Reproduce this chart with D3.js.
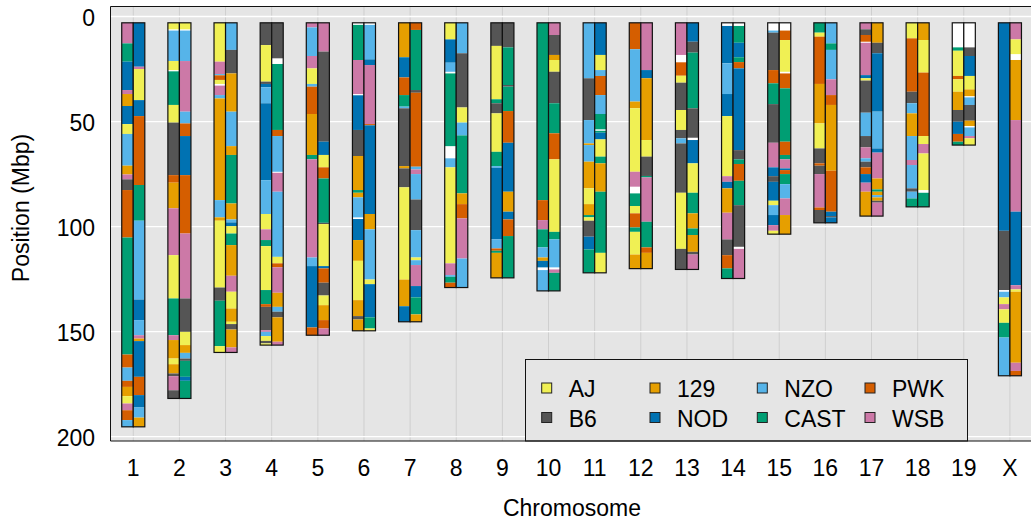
<!DOCTYPE html>
<html>
<head>
<meta charset="utf-8">
<script src="https://cdn.jsdelivr.net/npm/d3@7"></script>
<style>
  body { margin: 0; background: #fff; }
  svg { display: block; font-family: "Liberation Sans", Arial, sans-serif; }
</style>
</head>
<body>
<div id="chart"></div>
<script>
// founder strains, with their one-letter DO codes and colours
const founders = ['AJ', 'B6', '129', 'NOD', 'NZO', 'CAST', 'PWK', 'WSB'];
const founderCodes = ['A', 'B', 'C', 'D', 'E', 'F', 'G', 'H'];
const founderColors = ['#F0F054', '#555555', '#E69F00', '#0072B2', '#56B4E9', '#009E73', '#D55E00', '#CC79A7'];

const chromosomes = ['1', '2', '3', '4', '5', '6', '7', '8', '9', '10',
  '11', '12', '13', '14', '15', '16', '17', '18', '19', 'X'];
const chrStart = 3.0;
const yTicks = [0, 50, 100, 150, 200];

// haplotype blocks, "<code><end Mbp>", each block starts where the previous ends; '.' = no call
const hapLeft = [
  'H12.8 F21.5 D35.0 H36.9 C42.6 D51.2 A55.9 E71.0 C75.2 H77.5 B82.6 G105.2 F160.9 G167.1 E173.4 G176.3 C180.7 A184.2 H187.4 G192.1 E195.3',
  'A6.1 .6.7 E21.2 A25.5 .26.1 F42.1 A50.5 B75.5 G79.1 C91.3 H113.6 A134.2 F151.7 H154.0 C162.8 A165.5 C169.9 B171.2 H177.9 B181.8',
  'A21.5 H27.4 E28.0 G30.2 A32.1 .32.9 H37.4 E39.0 C87.4 E95.6 C97.2 A129.0 B135.3 F156.9 A159.9',
  'B13.6 A31.0 B32.1 D33.7 E41.3 D77.9 E94.0 A101.3 H106.4 F109.3 A130.2 F136.9 G138.2 B149.3 H150.1 E152.1 A154.4 B155.6 A156.4',
  'H5.2 E18.8 H24.7 A32.1 E33.4 G46.4 C65.9 F68.0 H114.7 E118.8 D148.0 G151.7',
  '.4.0 F20.7 H36.9 .37.5 D54.0 B66.4 C82.6 F83.9 C86.1 E95.6 .96.4 D106.4 C116.3 A135.0 C142.6 B144.2 C149.6',
  'C19.4 D29.0 G37.4 F42.9 E43.7 B71.2 C72.3 B81.3 A125.2 C137.9 D145.3',
  'A10.9 D22.0 E26.3 .27.1 F61.7 .67.5 E71.8 A117.5 H123.1 E123.9 F126.7 G129.0',
  'B14.0 A39.4 F41.3 B46.1 A64.4 F71.2 E72.0 D106.1 E110.4 G111.5 F112.5 C124.4',
  'F87.4 G96.9 H101.3 F109.9 E114.7 C116.3 D119.4 .120.7 E130.6',
  'E29.4 B49.3 E60.4 C61.2 E69.1 C81.8 A89.3 C94.5 F95.6 A97.2 B104.8 D110.9 F122.0',
  'G15.6 E40.5 C43.7 A73.9 H81.0 .84.2 F90.2 A93.7 G100.4 F102.5 A113.3 C120.0',
  'H18.3 .21.8 G28.2 A31.5 B44.5 A54.0 B58.0 E60.4 B83.9 A110.6 B120.4',
  '.4.5 D22.3 E36.9 D47.4 A76.0 H78.7 D81.8 C93.4 H106.1 B113.6 G119.9 F124.7',
  '.6.7 E7.7 B25.5 G31.8 F41.7 B60.1 H71.8 D76.0 B78.7 D87.7 A89.8 E94.5 D99.3 H102.0 A103.6',
  'F7.7 A9.6 G32.1 C50.9 A62.8 B69.9 G71.0 B75.0 H90.9 G92.1 B98.2',
  'H6.1 B8.8 G12.0 .12.5 H27.9 D29.4 A30.5 B45.8 E56.9 B62.3 H67.5 E69.1 B71.8 G75.0 D79.1 H83.4 C95.0',
  'A10.4 G35.8 B41.3 E46.1 C56.9 E68.3 H70.7 E81.8 B83.4 E86.6 F90.6',
  '.14.7 F16.3 A28.3 G29.9 A35.8 C44.5 B50.1 D55.9 G59.6 F61.2',
  'D102.0 B130.2 .131.0 E133.7 A136.9 H139.4 A145.8 F152.8 E171.0'
];

const hapRight = [
  'D23.9 H25.0 A39.8 D47.4 G80.2 F97.2 E134.7 D144.5 E151.7 H153.3 C154.5 D171.5 G180.2 D186.1 E190.9 C195.3',
  'A6.1 .6.7 E21.2 H45.3 E50.9 G56.9 D75.5 G103.3 H134.2 B150.1 A156.4 C160.1 E162.8 B163.9 F171.5 D173.4 F181.8',
  'E15.9 B27.1 C45.3 E61.7 C65.9 F89.0 C96.6 E98.0 D99.8 A103.3 F108.8 C123.4 H131.0 A139.0 C145.3 A146.4 B149.0 C157.5 H159.9',
  'B19.9 .22.6 F54.0 G56.9 E73.9 .74.4 H83.4 E114.4 A117.5 G119.4 H131.5 C138.2 E140.5 B143.2 C154.8 H156.4',
  'H16.7 B59.6 D65.9 A71.8 G77.1 F98.2 B98.8 A118.8 D119.9 G126.7 B132.8 A137.4 C144.5 G148.5 H151.7',
  '.4.0 E20.4 D23.1 H51.2 G51.8 D94.0 C101.3 E125.2 A127.4 D143.2 F148.5 A149.6',
  'G6.4 F35.0 B36.3 G71.5 E72.8 H75.0 E87.1 B101.7 E114.7 A116.0 E118.3 H128.3 D133.7 F141.8 C145.3',
  'E17.5 B43.3 A50.5 E56.6 F84.2 C89.3 G96.1 H115.2 E129.0',
  'B14.7 F32.6 B33.4 F45.0 G60.1 D83.4 C92.9 D96.6 G104.5 F124.4',
  'H8.8 B18.3 C20.7 A26.3 B41.3 F55.6 G68.0 A102.5 F106.1 E119.4 .120.4 H122.0 F130.6',
  'D18.3 A25.5 E28.3 G37.4 E46.4 F53.7 .54.4 F55.3 D58.5 A66.7 F69.9 C83.4 F112.5 A122.0',
  'H25.5 D29.4 C58.8 A66.7 B75.9 F76.6 H97.7 F109.9 G112.5 C120.0',
  'D12.0 B17.2 F43.7 B57.7 .58.8 D69.9 A83.9 F93.7 C100.9 F104.0 C112.0 B113.3 H120.4',
  '.4.5 F12.5 D19.4 F21.7 G24.7 D63.6 B68.0 F70.2 G78.2 F89.8 B109.6 .110.6 H124.7',
  '.6.7 G11.2 A26.3 .27.1 G34.2 F59.6 G65.9 F68.0 H72.3 D73.1 G75.0 F79.8 E86.6 H94.5 C103.6',
  'E12.8 F15.9 E29.9 H37.4 G42.1 C73.4 G92.9 D95.0 B95.6 D98.2',
  'C12.5 B17.5 D45.3 E62.8 D64.8 H77.1 C82.3 F83.4 C85.0 E86.1 C87.7 B88.6 H95.0',
  'C11.2 A26.7 G56.9 A60.7 H65.2 A82.6 .83.9 F90.6',
  '.14.7 B18.8 D28.3 A34.7 C37.9 .38.5 E42.1 B49.6 C52.1 .52.8 E56.9 H58.0 A61.2',
  'H10.9 A17.9 .20.7 C49.3 H92.9 D127.9 H129.9 A131.0 C164.8 H168.7 G171.0'
];

const width = 1031;
const height = 521;
const plotLeft = 110.5, plotTop = 6.5, plotBottom = 441, plotRight = 1040;
const bgColor = '#e5e5e5';

const color = d3.scaleOrdinal().domain(founderCodes).range(founderColors);

const x = d3.scaleLinear().domain([0.5, chromosomes.length + 0.5]).range([110.2, 1033]);
const y = d3.scaleLinear().domain([0, 200]).range([16.5, 436.7]);
const halfW = x(0.25) - x(0);

function parseHap(str) {
  let start = chrStart;
  return str.split(' ').map((t) => {
    const seg = { code: t[0], start: start, end: +t.slice(1) };
    start = seg.end;
    return seg;
  });
}

const chrData = chromosomes.map((name, i) => {
  const left = parseHap(hapLeft[i]);
  const right = parseHap(hapRight[i]);
  return { name, pos: i + 1, haps: [left, right], end: left[left.length - 1].end };
});

const svg = d3.create('svg').attr('width', width).attr('height', height);

svg.append('rect')
  .attr('x', plotLeft).attr('y', plotTop)
  .attr('width', plotRight - plotLeft).attr('height', plotBottom - plotTop)
  .attr('fill', bgColor);

// grid
svg.append('g').selectAll('line')
  .data(chrData)
  .join('line')
  .attr('x1', (d) => x(d.pos)).attr('x2', (d) => x(d.pos))
  .attr('y1', plotTop).attr('y2', plotBottom)
  .attr('stroke', '#cfcfcf').attr('stroke-width', 1);

svg.append('g').selectAll('line')
  .data(yTicks)
  .join('line')
  .attr('x1', plotLeft).attr('x2', plotRight)
  .attr('y1', (d) => y(d)).attr('y2', (d) => y(d))
  .attr('stroke', '#fff').attr('stroke-width', 1.3);

// chromosomes
const chrG = svg.append('g').selectAll('g')
  .data(chrData)
  .join('g');

chrG.each(function (d) {
  const g = d3.select(this);
  d.haps.forEach((segs, k) => {
    const x0 = x(d.pos) - halfW + k * halfW;
    g.append('rect')
      .attr('x', x0).attr('y', y(chrStart))
      .attr('width', halfW).attr('height', y(d.end) - y(chrStart))
      .attr('fill', '#fff');
    g.selectAll(null)
      .data(segs.filter((s) => s.code !== '.'))
      .join('rect')
      .attr('x', x0)
      .attr('y', (s) => y(s.start))
      .attr('width', halfW)
      .attr('height', (s) => y(s.end) - y(s.start))
      .attr('fill', (s) => color(s.code));
    g.append('rect')
      .attr('x', x0).attr('y', y(chrStart))
      .attr('width', halfW).attr('height', y(d.end) - y(chrStart))
      .attr('fill', 'none')
      .attr('stroke', '#111').attr('stroke-width', 1.2);
  });
});

// axis labels
svg.append('g').selectAll('text')
  .data(yTicks)
  .join('text')
  .attr('x', 95).attr('y', (d) => y(d) + 1)
  .attr('dy', '0.35em')
  .attr('text-anchor', 'end')
  .attr('font-size', 23)
  .text((d) => d);

svg.append('g').selectAll('text')
  .data(chrData)
  .join('text')
  .attr('x', (d) => x(d.pos)).attr('y', 476)
  .attr('text-anchor', 'middle')
  .attr('font-size', 23)
  .text((d) => d.name);

svg.append('text')
  .attr('x', 572).attr('y', 516)
  .attr('text-anchor', 'middle')
  .attr('font-size', 23)
  .text('Chromosome');

svg.append('text')
  .attr('transform', 'translate(29,208) rotate(-90)')
  .attr('text-anchor', 'middle')
  .attr('font-size', 23)
  .text('Position (Mbp)');

// legend
const legend = svg.append('g');
legend.append('rect')
  .attr('x', 525.5).attr('y', 359.5)
  .attr('width', 442).attr('height', plotBottom - 359.5)
  .attr('fill', bgColor).attr('stroke', '#111').attr('stroke-width', 1);

const legendCols = [546.7, 655, 762.3, 870];
const legendRows = [388, 417.5];
const items = legend.selectAll('g')
  .data(founders)
  .join('g')
  .attr('transform', (d, i) =>
    `translate(${legendCols[Math.floor(i / 2)]},${legendRows[i % 2]})`);

items.append('rect')
  .attr('x', -5).attr('y', -5).attr('width', 10).attr('height', 10)
  .attr('fill', (d, i) => founderColors[i])
  .attr('stroke', '#222').attr('stroke-width', 1);

items.append('text')
  .attr('x', 22).attr('y', 1)
  .attr('dy', '0.35em')
  .attr('font-size', 23)
  .text((d) => d);

// frame
svg.append('path')
  .attr('d', `M${plotRight},${plotTop}H${plotLeft}V${plotBottom}H${plotRight}`)
  .attr('fill', 'none').attr('stroke', '#111').attr('stroke-width', 1);

document.getElementById('chart').appendChild(svg.node());
</script>
</body>
</html>
